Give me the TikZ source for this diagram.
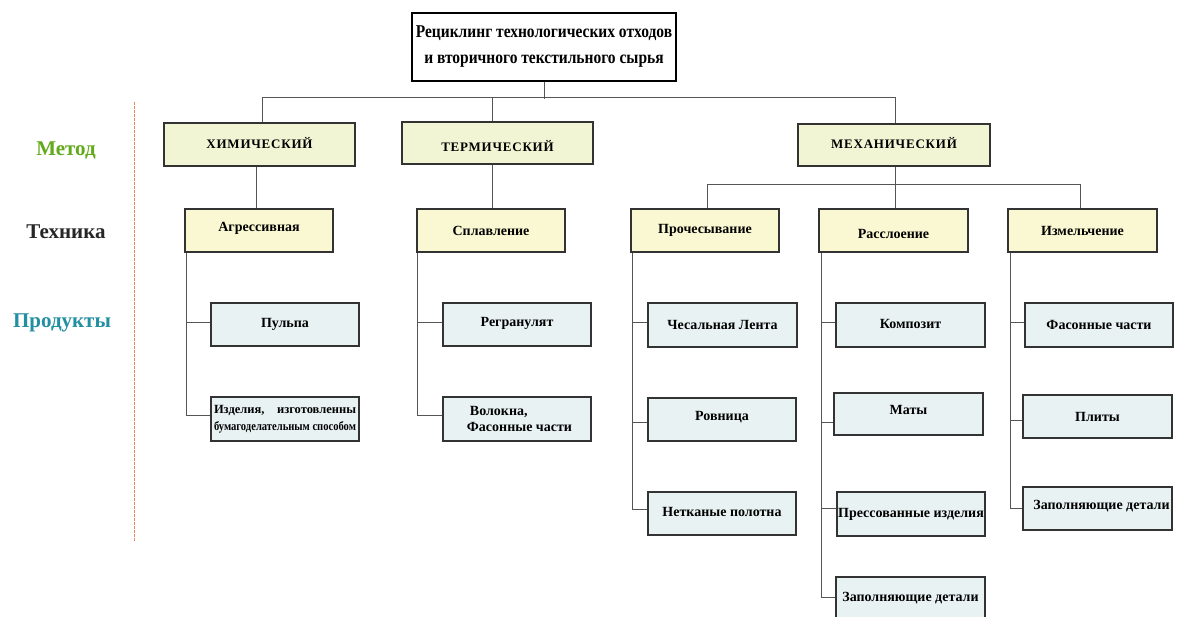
\documentclass[tikz,border=0pt]{standalone}
\usepackage{fontspec}
\usepackage{graphicx}
\setmainfont{Liberation Serif}
\newfontfamily\condfont[FakeStretch=0.86]{Liberation Serif}
\newfontfamily\spacedfont[LetterSpace=6]{Liberation Serif}
\definecolor{methodfill}{HTML}{F1F5D3}
\definecolor{techfill}{HTML}{FAF8D2}
\definecolor{prodfill}{HTML}{E9F2F2}
\definecolor{boxline}{HTML}{333333}
\definecolor{connline}{HTML}{555555}
\definecolor{lblgreen}{HTML}{62AA1C}
\definecolor{lblteal}{HTML}{238FA3}
\definecolor{dashorange}{HTML}{F0865A}
\newcommand{\vshift}[2]{\raisebox{#1}[\height][\depth]{#2}}
\tikzset{
  box/.style={draw=boxline, line width=1.2pt, inner sep=0pt, align=center,
    font=\bfseries\fontsize{14}{16}\selectfont},
  method/.style={box, fill=methodfill, font=\spacedfont\bfseries\fontsize{13}{15}\selectfont},
  tech/.style={box, fill=techfill},
  prod/.style={box, fill=prodfill},
  conn/.style={draw=connline, line width=0.9pt},
  rowlabel/.style={font=\bfseries\fontsize{21}{24}\selectfont, inner sep=0pt}
}
\begin{document}
\begin{tikzpicture}[x=1pt,y=-1pt]
\useasboundingbox[fill=white] (0,0) rectangle (1177,616);
\clip (0,0) rectangle (1177,616);
% title
\node[draw=black, line width=2.4pt, fill=white, minimum width=264pt, minimum height=68pt, inner sep=0pt,
  align=center, font=\condfont\bfseries\fontsize{18}{26}\selectfont] (title) at (544,47)
  {Рециклинг технологических отходов\\и вторичного текстильного сырья};
% row labels
\node[rowlabel, text=lblgreen] (lmet) at (66,150) {Метод};
\node[rowlabel, text=black!85] (ltech) at (66,232) {Техника};
\node[rowlabel, text=lblteal] (lprod) at (62,323) {Продукты};
\coordinate (dtop) at (134,102);
\coordinate (dbot) at (134,541);
\draw[dashorange, line width=0.9pt, dash pattern=on 2.5pt off 1.5pt] (dtop) -- (dbot);
% methods
\node[method, minimum width=191pt, minimum height=43pt] (chem) at (259.5,144.5) {\vshift{1.5pt}{ХИМИЧЕСКИЙ}};
\node[method, minimum width=191pt, minimum height=42pt] (term) at (497.5,143) {\vshift{-3pt}{ТЕРМИЧЕСКИЙ}};
\node[method, minimum width=192pt, minimum height=42pt] (mech) at (894,145) {\vshift{2pt}{МЕХАНИЧЕСКИЙ}};
% techniques
\node[tech, minimum width=148pt, minimum height=43pt] (aggr) at (259,230.5) {\vshift{2.5pt}{Агрессивная}};
\node[tech, minimum width=148pt, minimum height=43pt] (splav) at (491,230.5) {Сплавление};
\node[tech, minimum width=148pt, minimum height=43pt] (proc) at (705,230.5) {Прочесывание};
\node[tech, minimum width=149pt, minimum height=43pt] (rass) at (893.5,230.5) {\vshift{-3pt}{Расслоение}};
\node[tech, minimum width=149pt, minimum height=43pt] (izm) at (1082.5,230.5) {Измельчение};
% products
\node[prod, minimum width=148pt, minimum height=43pt] (pulpa) at (285,324.5) {Пульпа};
\node[prod, minimum width=148pt, minimum height=44pt, font=\bfseries\fontsize{12.5}{16.5}\selectfont] (izd) at (285,419)
  {\hbox to 142pt{Изделия,\hfill изготовленны}\\\resizebox{142pt}{\height}{бумагоделательным способом}};
\node[prod, minimum width=148pt, minimum height=43pt] (regr) at (517,324.5) {\vshift{1.5pt}{Регранулят}};
\node[prod, minimum width=148pt, minimum height=44pt, align=left, font=\bfseries\fontsize{14}{16}\selectfont] (volok) at (517,419)
  {\hspace*{8pt}Волокна,\\\hspace*{5pt}Фасонные части};
\node[prod, minimum width=149pt, minimum height=44pt] (ches) at (722.5,325) {Чесальная Лента};
\node[prod, minimum width=148pt, minimum height=43pt] (rovn) at (722,419.5) {\vshift{2pt}{Ровница}};
\node[prod, minimum width=148pt, minimum height=43pt] (netk) at (722,513.5) {\vshift{2pt}{Нетканые полотна}};
\node[prod, minimum width=149pt, minimum height=44pt] (komp) at (910.5,325) {\vshift{1.5pt}{Композит}};
\node[prod, minimum width=149pt, minimum height=42pt] (maty) at (908.5,414) {\vshift{4pt}{Маты}};
\node[prod, minimum width=148pt, minimum height=44pt] (press) at (911,514) {Прессованные изделия};
\node[prod, minimum width=149pt, minimum height=43pt] (zap2) at (910.5,598.5) {Заполняющие детали};
\node[prod, minimum width=148pt, minimum height=44pt] (fas) at (1099,325) {Фасонные части};
\node[prod, minimum width=149pt, minimum height=43pt] (plity) at (1097.5,416.5) {Плиты};
\node[prod, minimum width=149pt, minimum height=43pt] (zap3) at (1097.5,508.5) {\hspace*{8pt}\vshift{2pt}{Заполняющие детали}};
% connectors: top level
\draw[conn] (title.south) -- ++(0,17);
\draw[conn] ([xshift=2.5pt]chem.north) -- ++(0,-25) -| ([xshift=1pt]mech.north);
\draw[conn] ([xshift=-5.5pt]term.north) -- ++(0,-24);
% method to technique
\draw[conn] ([xshift=-3.5pt]chem.south) -- ([xshift=-3.5pt]chem.south |- aggr.north);
\draw[conn] ([xshift=-5.5pt]term.south) -- ([xshift=-5.5pt]term.south |- splav.north);
\draw[conn] ([xshift=2pt]proc.north) -- ++(0,-24) -| ([xshift=-2.5pt]izm.north);
\draw[conn] ([xshift=1pt]mech.south) -- ([xshift=1pt]mech.south |- rass.north);
% technique to products
\draw[conn] ([xshift=2pt]aggr.south west) |- ([yshift=2.5pt]pulpa.west);
\draw[conn] ([xshift=2pt]aggr.south west) |- ([yshift=4pt]izd.west);
\draw[conn] ([xshift=1pt]splav.south west) |- ([yshift=2.5pt]regr.west);
\draw[conn] ([xshift=1pt]splav.south west) |- ([yshift=4pt]volok.west);
\draw[conn] ([xshift=2pt]proc.south west) |- ([yshift=3pt]ches.west);
\draw[conn] ([xshift=2pt]proc.south west) |- ([yshift=-2.5pt]rovn.west);
\draw[conn] ([xshift=2pt]proc.south west) |- ([yshift=4.5pt]netk.west);
\draw[conn] ([xshift=3pt]rass.south west) |- ([yshift=3pt]komp.west);
\draw[conn] ([xshift=3pt]rass.south west) |- ([yshift=-8pt]maty.west);
\draw[conn] ([xshift=3pt]rass.south west) |- ([yshift=6pt]press.west);
\draw[conn] ([xshift=3pt]rass.south west) |- ([yshift=1.5pt]zap2.west);
\draw[conn] ([xshift=3pt]izm.south west) |- ([yshift=3pt]fas.west);
\draw[conn] ([xshift=3pt]izm.south west) |- ([yshift=-3.5pt]plity.west);
\draw[conn] ([xshift=3pt]izm.south west) |- (zap3.west);
\end{tikzpicture}
\end{document}
